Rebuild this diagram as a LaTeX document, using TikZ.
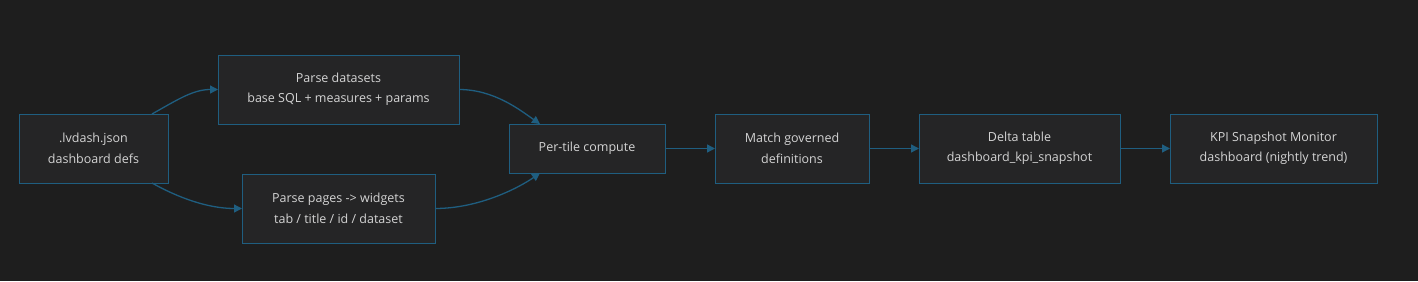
\documentclass[tikz,border=0pt]{standalone}
\usepackage{fontspec}
\setmainfont{Open Sans}
\usepackage{tikz}
\usetikzlibrary{positioning,arrows.meta}
\definecolor{DBBack}{HTML}{1E1E1E}
\definecolor{DBFill}{HTML}{252526}
\definecolor{DBLine}{HTML}{1F5E80}
\definecolor{DBText}{HTML}{D4D4D4}

\begin{document}
\begin{tikzpicture}[
  x=1pt, y=-1pt,
  node distance=50pt and 50pt,
  box/.style={draw=DBLine, fill=DBFill, line width=1pt, outer sep=0pt, minimum height=69pt, align=center, text=DBText, font=\fontsize{12.5}{20.5}\selectfont, inner sep=0pt, execute at begin node={\vspace*{5pt}}},
  arrow/.style={-{Triangle[length=8pt, width=8pt]}, draw=DBLine, line width=1.3pt}
]
\fill[DBBack] (0,0) rectangle (1418,281);
\useasboundingbox (0,0) rectangle (1418,281);
\node[box, minimum width=149pt] (src) at (93.5,148.5) {.lvdash.json\\dashboard defs};
\node[box, minimum width=241pt, right=of src, yshift=59pt] (datasets) {Parse datasets\\base SQL + measures + params};
\node[box, minimum width=193pt, below=of datasets] (pages) {Parse pages -> widgets\\tab / title / id / dataset};
\node[box, minimum width=156pt, minimum height=49pt, anchor=west] (compute) at ([xshift=50pt]datasets.east |- src.east) {Per-tile compute};
\node[box, minimum width=154pt, right=of compute] (match) {Match governed\\definitions};
\node[box, minimum width=201pt, right=of match] (delta) {Delta table\\dashboard\_kpi\_snapshot};
\node[box, minimum width=207pt, right=of delta] (kpi) {KPI Snapshot Monitor\\dashboard (nightly trend)};
\draw[arrow] ([xshift=-16pt]src.north east) .. controls +(25,-14) and +(-25,0) .. (datasets.west);
\draw[arrow] ([xshift=-16pt]src.south east) .. controls +(25,14) and +(-35,0) .. (pages.west);
\draw[arrow] (datasets.east) .. controls +(35,0) and +(-20,-14) .. ([xshift=-47pt]compute.north);
\draw[arrow] (pages.east) .. controls +(45,0) and +(-20,14) .. ([xshift=-47pt]compute.south);
\draw[arrow] (compute) -- (match);
\draw[arrow] (match) -- (delta);
\draw[arrow] (delta) -- (kpi);
\end{tikzpicture}
\end{document}
